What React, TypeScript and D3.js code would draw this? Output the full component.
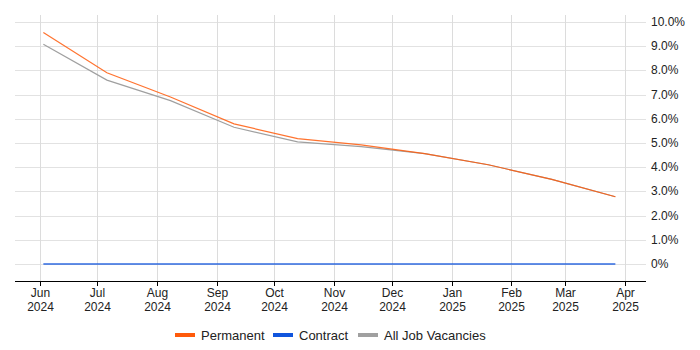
import React, { useEffect, useRef } from "react";
import * as d3 from "d3";

// sample dates (roughly monthly) and series values in %
const dates = [
  "2024-06-03", "2024-07-06", "2024-08-08", "2024-09-10", "2024-10-13",
  "2024-11-15", "2024-12-18", "2025-01-20", "2025-02-22", "2025-03-27",
];
const permanent = [9.57, 7.9, 6.9, 5.79, 5.18, 4.92, 4.56, 4.1, 3.5, 2.78];
const contract = [0, 0, 0, 0, 0, 0, 0, 0, 0, 0];
const allJobs = [9.08, 7.6, 6.75, 5.65, 5.05, 4.85, 4.56, 4.1, 3.5, 2.78];

const monthTicks = [
  "2024-06-01", "2024-07-01", "2024-08-01", "2024-09-01", "2024-10-01", "2024-11-01",
  "2024-12-01", "2025-01-01", "2025-02-01", "2025-03-01", "2025-04-01",
];
const yTicks = [0, 1, 2, 3, 4, 5, 6, 7, 8, 9, 10];

const seriesList = [
  { name: "Permanent", values: permanent, color: "#ff5a0a" },
  { name: "Contract", values: contract, color: "#1155dd" },
  { name: "All Job Vacancies", values: allJobs, color: "#a0a0a0" },
];

export default function App() {
  const ref = useRef<SVGSVGElement>(null);

  useEffect(() => {
    const svg = d3.select(ref.current);
    svg.selectAll("*").remove();

    const width = 700;
    const height = 350;
    const left = 15;
    const right = 646;
    const top = 15;
    const axisY = 281;
    const font = "'Liberation Sans', Arial, sans-serif";

    const parse = d3.timeParse("%Y-%m-%d");
    const x = d3.scaleTime()
      .domain([parse("2024-06-01")!, parse("2025-04-01")!])
      .range([39.5, 625]);
    const y = d3.scaleLinear().domain([0, 10]).range([264, 22]);

    svg.attr("width", width).attr("height", height);

    // horizontal grid
    svg.append("g")
      .selectAll("line")
      .data(yTicks)
      .join("line")
      .attr("x1", left)
      .attr("x2", right)
      .attr("y1", d => Math.round(y(d)) + 0.5)
      .attr("y2", d => Math.round(y(d)) + 0.5)
      .attr("stroke", "#e2e2e2");

    // vertical grid
    svg.append("g")
      .selectAll("line")
      .data(monthTicks)
      .join("line")
      .attr("x1", d => Math.round(x(parse(d)!)) + 0.5)
      .attr("x2", d => Math.round(x(parse(d)!)) + 0.5)
      .attr("y1", top)
      .attr("y2", axisY)
      .attr("stroke", "#dcdcdc");

    // y labels
    svg.append("g")
      .selectAll("text")
      .data(yTicks)
      .join("text")
      .attr("x", 651)
      .attr("y", d => y(d) + 4)
      .attr("font-family", font)
      .attr("font-size", 12)
      .attr("fill", "#222")
      .text(d => (d === 0 ? "0%" : d.toFixed(1) + "%"));

    // x axis line + ticks
    svg.append("line")
      .attr("x1", left)
      .attr("x2", right)
      .attr("y1", axisY + 0.5)
      .attr("y2", axisY + 0.5)
      .attr("stroke", "#000");

    const xt = svg.append("g")
      .selectAll("g")
      .data(monthTicks)
      .join("g")
      .attr("transform", d => `translate(${Math.round(x(parse(d)!)) + 0.5},0)`);
    xt.append("line")
      .attr("y1", axisY)
      .attr("y2", axisY + 5)
      .attr("stroke", "#000");
    xt.append("text")
      .attr("y", axisY + 16)
      .attr("text-anchor", "middle")
      .attr("font-family", font)
      .attr("font-size", 12)
      .attr("fill", "#222")
      .text(d => d3.timeFormat("%b")(parse(d)!));
    xt.append("text")
      .attr("y", axisY + 30)
      .attr("text-anchor", "middle")
      .attr("font-family", font)
      .attr("font-size", 12)
      .attr("fill", "#222")
      .text(d => d3.timeFormat("%Y")(parse(d)!));

    // lines
    const line = d3.line<number>()
      .x((_, i) => x(parse(dates[i])!))
      .y(d => y(d));

    svg.append("path")
      .datum(allJobs)
      .attr("fill", "none")
      .attr("stroke", "#a0a0a0")
      .attr("stroke-width", 1.2)
      .attr("d", line);
    svg.append("path")
      .datum(permanent)
      .attr("fill", "none")
      .attr("stroke", "#ff5a0a")
      .attr("stroke-opacity", 0.85)
      .attr("stroke-width", 1.2)
      .attr("d", line);
    svg.append("path")
      .datum(contract)
      .attr("fill", "none")
      .attr("stroke", "#1155dd")
      .attr("stroke-opacity", 0.65)
      .attr("stroke-width", 2)
      .attr("d", line);

    // legend
    const legendX = [175, 273, 358];
    const lg = svg.append("g")
      .selectAll("g")
      .data(seriesList)
      .join("g")
      .attr("transform", (_, i) => `translate(${legendX[i]},335)`);
    lg.append("line")
      .attr("x1", 0)
      .attr("x2", 20)
      .attr("stroke", d => d.color)
      .attr("stroke-width", 4);
    lg.append("text")
      .attr("x", 26)
      .attr("y", 4.5)
      .attr("font-family", font)
      .attr("font-size", 13)
      .attr("fill", "#222")
      .text(d => d.name);
  }, []);

  return <svg ref={ref} style={{ position: "absolute", left: 0, top: 0 }}></svg>;
}
